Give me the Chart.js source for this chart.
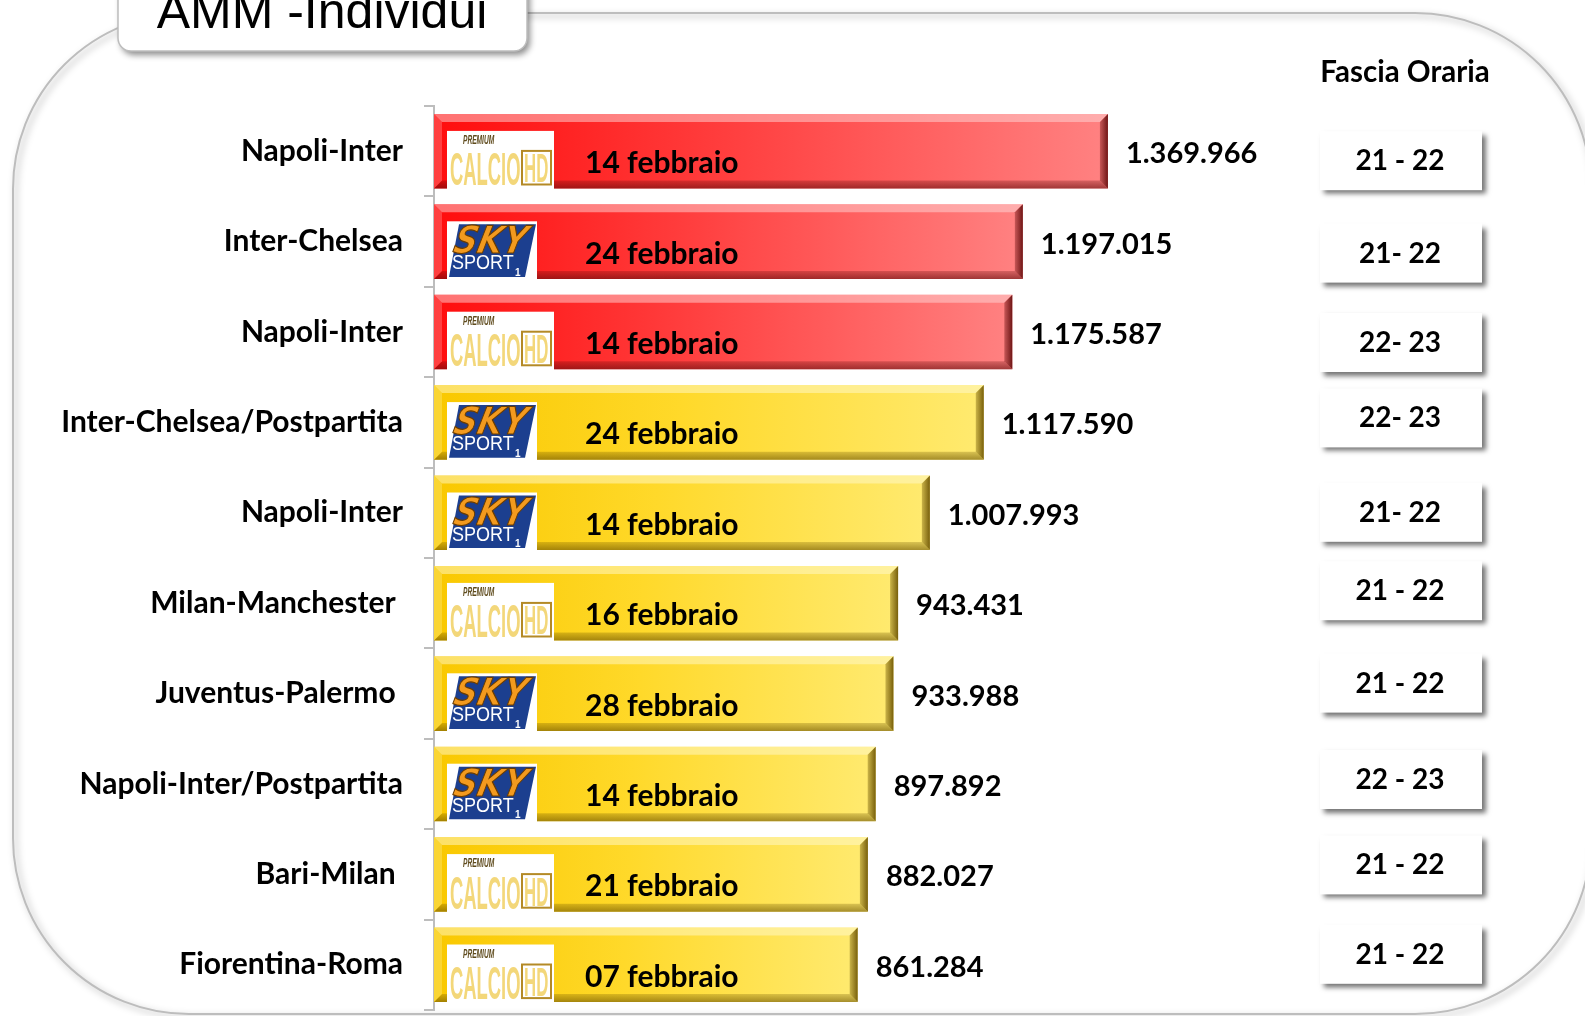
<!DOCTYPE html>
<html><head><meta charset="utf-8">
<script src="https://cdn.jsdelivr.net/npm/chart.js@4.4.1/dist/chart.umd.min.js"></script>
<style>html,body{margin:0;padding:0;background:#fff;overflow:hidden}canvas{display:block}</style>
</head><body>
<canvas id="c" width="1585" height="1016"></canvas>
<script>
// ---- data ----
const chartTitle = 'AMM -Individui';
const sideHeader = 'Fascia Oraria';
const categories = ['Napoli-Inter','Inter-Chelsea','Napoli-Inter','Inter-Chelsea/Postpartita','Napoli-Inter','Milan-Manchester ','Juventus-Palermo ','Napoli-Inter/Postpartita','Bari-Milan ','Fiorentina-Roma'];
const audience = [1369966,1197015,1175587,1117590,1007993,943431,933988,897892,882027,861284];
const matchDates = ['14 febbraio','24 febbraio','14 febbraio','24 febbraio','14 febbraio','16 febbraio','28 febbraio','14 febbraio','21 febbraio','07 febbraio'];
const channels = ['calcio','sky','calcio','sky','sky','calcio','sky','sky','calcio','calcio'];
const timeSlots = ['21 - 22','21- 22','22- 23','22- 23','21- 22','21 - 22','21 - 22','22 - 23','21 - 22','21 - 22'];
const highlightCount = 3;

// ---- styles ----
const FONT = "Lato, 'Open Sans', sans-serif";
const PALETTE = {
  red:  {l:'#ff0d0d', m:'#ff4040', r:'#ff8282', dark:'rgba(95,10,10,', light:'rgba(255,215,215,'},
  gold: {l:'#f9c800', m:'#ffd92a', r:'#ffea70', dark:'rgba(105,80,0,', light:'rgba(255,250,205,'}
};
const boxShift = [9,11,10,-5,-1,-13,-11,-5,-10,-11];
const tierOf = i => i < highlightCount ? 'red' : 'gold';
const fmt = n => String(n).replace(/\B(?=(\d{3})+(?!\d))/g, '.');

function poly(ctx, pts, fill){
  ctx.beginPath(); ctx.moveTo(pts[0][0], pts[0][1]);
  for (let k=1;k<pts.length;k++) ctx.lineTo(pts[k][0], pts[k][1]);
  ctx.closePath(); ctx.fillStyle = fill; ctx.fill();
}
function rrect(ctx, x, y, w, h, r){
  ctx.beginPath();
  ctx.moveTo(x+r, y); ctx.lineTo(x+w-r, y); ctx.arcTo(x+w, y, x+w, y+r, r);
  ctx.lineTo(x+w, y+h-r); ctx.arcTo(x+w, y+h, x+w-r, y+h, r);
  ctx.lineTo(x+r, y+h); ctx.arcTo(x, y+h, x, y+h-r, r);
  ctx.lineTo(x, y+r); ctx.arcTo(x, y, x+r, y, r); ctx.closePath();
}

function drawSky(ctx, x, y, w, h){
  ctx.save();
  ctx.fillStyle = '#fff'; ctx.fillRect(x, y, w, h);
  poly(ctx, [[x+12, y+3],[x+w-1, y+3],[x+w-12, y+h-3],[x+2, y+h-3]], '#1c3f8f');
  ctx.beginPath(); ctx.rect(x, y, w, h); ctx.clip();
  ctx.save();
  ctx.translate(x+5, y+32);
  ctx.transform(1, 0, -0.22, 1, 0, 0);
  ctx.font = "italic 900 38px 'DejaVu Sans', sans-serif";
  ctx.fillStyle = '#f39a1e'; ctx.strokeStyle = '#6a3c00'; ctx.lineWidth = 1.2;
  ctx.scale(0.86, 1); ctx.fillText('SKY', 0, 0); ctx.strokeText('SKY', 0, 0);
  ctx.restore();
  ctx.font = "20px 'Liberation Sans', sans-serif";
  ctx.fillStyle = '#fff';
  ctx.save(); ctx.translate(x+5, y+48); ctx.scale(0.9, 1); ctx.fillText('SPORT', 0, 0); ctx.restore();
  ctx.font = "bold 10px 'Liberation Sans', sans-serif";
  ctx.fillText('1', x+w-22, y+h-4);
  ctx.restore();
}
function drawCalcio(ctx, x, y, w, h){
  ctx.save();
  ctx.fillStyle = '#fff'; ctx.fillRect(x, y, w, h);
  ctx.beginPath(); ctx.rect(x, y, w, h); ctx.clip();
  const g = ctx.createLinearGradient(0, y+16, 0, y+h-3);
  g.addColorStop(0, '#f3d77a'); g.addColorStop(0.5, '#b48a26'); g.addColorStop(1, '#e8c45c');
  ctx.font = "italic bold 12px 'Liberation Sans', sans-serif";
  ctx.fillStyle = '#5e4a1c';
  ctx.save(); ctx.translate(x+16, y+13); ctx.scale(0.55, 1); ctx.fillText('PREMIUM', 0, 0); ctx.restore();
  ctx.font = "bold 46px 'Liberation Sans', sans-serif";
  ctx.fillStyle = g;
  ctx.save(); ctx.translate(x+3, y+h-4); ctx.scale(0.4, 1); ctx.fillText('CALCIO', 0, 0); ctx.restore();
  ctx.strokeStyle = '#b48a26'; ctx.lineWidth = 2;
  ctx.strokeRect(x+w-32, y+20, 29, h-25);
  ctx.font = "bold 40px 'Liberation Sans', sans-serif";
  ctx.save(); ctx.translate(x+w-30, y+h-7); ctx.scale(0.42, 1); ctx.fillText('HD', 0, 0); ctx.restore();
  ctx.restore();
}

const framePlugin = {
  id: 'frame',
  beforeDraw(chart){
    const ctx = chart.ctx;
    ctx.save();
    const L = 13, T = 13, R = 1591, B = 1014, r = 176;
    ctx.beginPath();
    ctx.moveTo(L + r, T); ctx.lineTo(R - r, T); ctx.arcTo(R, T, R, T + r, r);
    ctx.lineTo(R, B - r); ctx.arcTo(R, B, R - r, B, r);
    ctx.lineTo(L + r, B); ctx.arcTo(L, B, L, B - r, r);
    ctx.lineTo(L, T + r); ctx.arcTo(L, T, L + r, T, r); ctx.closePath();
    ctx.shadowColor = 'rgba(0,0,0,0.35)'; ctx.shadowBlur = 7; ctx.shadowOffsetX = 3; ctx.shadowOffsetY = 3;
    ctx.strokeStyle = '#bdbdbd'; ctx.lineWidth = 2; ctx.stroke();
    ctx.restore();
  },
  afterDraw(chart){
    const ctx = chart.ctx, y = chart.scales.y;
    ctx.save();
    ctx.shadowColor = 'rgba(0,0,0,0.45)'; ctx.shadowBlur = 6; ctx.shadowOffsetX = 3; ctx.shadowOffsetY = 4;
    rrect(ctx, 118, -30, 409, 81, 13);
    ctx.fillStyle = '#fff'; ctx.fill();
    ctx.shadowColor = 'transparent';
    ctx.strokeStyle = '#bdbdbd'; ctx.lineWidth = 1.5; ctx.stroke();
    ctx.fillStyle = '#000'; ctx.font = "50px 'Liberation Sans', Arial, sans-serif";
    ctx.textAlign = 'center'; ctx.textBaseline = 'alphabetic';
    ctx.fillText(chartTitle, 322, 28);
    ctx.font = 'bold 29.5px ' + FONT;
    ctx.fillText(sideHeader, 1405, 82);
    timeSlots.forEach((t, i) => {
      const cy = y.getPixelForValue(i) + boxShift[i];
      ctx.save();
      ctx.shadowColor = 'rgba(0,0,0,0.55)'; ctx.shadowBlur = 5; ctx.shadowOffsetX = 4; ctx.shadowOffsetY = 4;
      ctx.fillStyle = '#fff'; ctx.fillRect(1320, cy - 29, 162, 59);
      ctx.restore();
      ctx.fillStyle = '#000'; ctx.font = 'bold 28px ' + FONT; ctx.textAlign = 'center';
      ctx.fillText(t, 1400, cy + 10);
    });
    ctx.restore();
  }
};

const barDecor = {
  id: 'barDecor',
  afterDatasetsDraw(chart){
    const ctx = chart.ctx; const meta = chart.getDatasetMeta(0);
    ctx.save();
    meta.data.forEach((el, i) => {
      const {x, y, base, height} = el.getProps(['x','y','base','height'], true);
      const L = base, R = x, T = y - height/2, B = y + height/2, b = 8;
      const p = PALETTE[tierOf(i)];
      poly(ctx, [[L,T],[R,T],[R-b,T+b],[L+b,T+b]], p.light + '0.5)');
      const gb = ctx.createLinearGradient(0, B-b, 0, B);
      gb.addColorStop(0, p.dark + '0.25)'); gb.addColorStop(1, p.dark + '0.6)');
      poly(ctx, [[L,B],[R,B],[R-b,B-b],[L+b,B-b]], gb);
      const gr = ctx.createLinearGradient(R-b, 0, R, 0);
      gr.addColorStop(0, p.dark + '0.35)'); gr.addColorStop(1, p.dark + '0.9)');
      poly(ctx, [[R,T],[R,B],[R-b,B-b],[R-b,T+b]], gr);
      poly(ctx, [[L,T],[L,B],[L+b,B-b],[L+b,T+b]], p.light + '0.25)');
      const lx = L + 13, ly = T + 17, lh = B - ly + 1;
      if (channels[i] === 'sky') drawSky(ctx, lx, ly, 90, lh); else drawCalcio(ctx, lx, ly, 107, lh);
      ctx.fillStyle = '#000'; ctx.textAlign = 'left'; ctx.textBaseline = 'alphabetic';
      ctx.font = 'bold 30px ' + FONT;
      ctx.fillText(matchDates[i], L + 151, y + 22);
      ctx.font = 'bold 29px ' + FONT;
      ctx.fillText(fmt(audience[i]), R + 18, y + 12);
    });
    ctx.restore();
  }
};

new Chart(document.getElementById('c'), {
  type: 'bar',
  data: {
    labels: categories,
    datasets: [{
      data: audience,
      backgroundColor: (c) => {
        const chart = c.chart, area = chart.chartArea;
        const p = PALETTE[tierOf(c.dataIndex)];
        if (!area || c.type !== 'data') return p.m;
        const x1 = chart.scales.x.getPixelForValue(c.raw);
        const g = chart.ctx.createLinearGradient(area.left, 0, x1, 0);
        g.addColorStop(0, p.l); g.addColorStop(0.45, p.m); g.addColorStop(1, p.r);
        return g;
      },
      borderWidth: 0,
      barPercentage: 0.825,
      categoryPercentage: 1
    }]
  },
  options: {
    indexAxis: 'y',
    responsive: false,
    animation: false,
    devicePixelRatio: 1,
    layout: { padding: { left: 0, top: 106, right: 268, bottom: 6 } },
    plugins: { legend: { display: false }, tooltip: { enabled: false }, title: { display: false } },
    scales: {
      x: { display: false, min: 0, max: 1795000 },
      y: {
        offset: true,
        afterFit: (s) => { s.width = 434; s.paddingTop = 0; s.paddingBottom = 0; },
        grid: { offset: true, drawOnChartArea: false, drawTicks: true, tickLength: 10, color: '#bdbdbd', lineWidth: 2 },
        border: { color: '#bdbdbd', width: 2 },
        ticks: { color: '#000', padding: 21, labelOffset: 0, font: { family: FONT, weight: 'bold', size: 30 } }
      }
    }
  },
  plugins: [framePlugin, barDecor]
});
</script>
</body></html>
